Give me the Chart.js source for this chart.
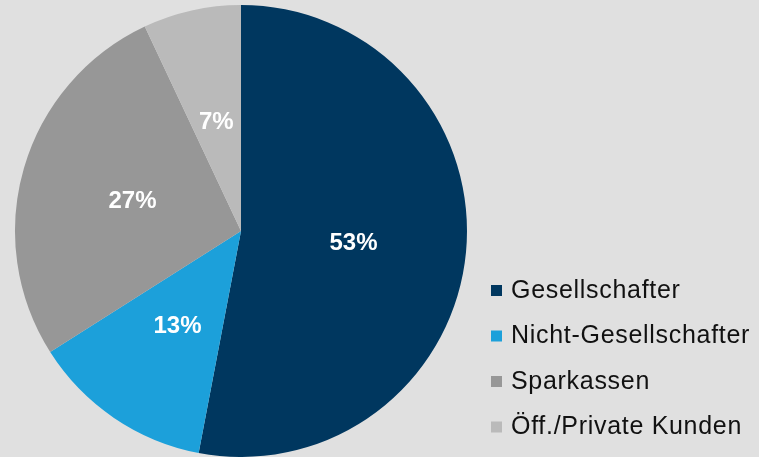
<!DOCTYPE html>
<html>
<head>
<meta charset="utf-8">
<script src="https://cdn.jsdelivr.net/npm/chart.js@4"></script>
<style>
  html, body { margin: 0; padding: 0; background: #e0e0e0; }
  #wrap { width: 759px; height: 457px; position: relative; }
</style>
</head>
<body>
<div id="wrap"><canvas id="pieChart"></canvas></div>
<script>
const labels = ['Gesellschafter', 'Nicht-Gesellschafter', 'Sparkassen', 'Öff./Private Kunden'];
const values = [53, 13, 27, 7];
const colors = ['#00375f', '#1ca0da', '#979797', '#bababa'];

// percentage text inside each slice
const sliceLabels = {
  id: 'sliceLabels',
  afterDatasetsDraw(chart) {
    const ctx = chart.ctx;
    const meta = chart.getDatasetMeta(0);
    ctx.save();
    ctx.fillStyle = '#fff';
    ctx.font = 'bold 24px "Liberation Sans", Arial, sans-serif';
    ctx.textAlign = 'center';
    ctx.textBaseline = 'middle';
    meta.data.forEach((arc, i) => {
      const p = arc.tooltipPosition();
      ctx.fillText(values[i] + '%', p.x, p.y + 2);
    });
    ctx.restore();
  }
};

// legend on the lower right
const sideLegend = {
  id: 'sideLegend',
  afterDraw(chart) {
    const ctx = chart.ctx;
    const x0 = 491, y0 = 290, step = 45.5;
    ctx.save();
    ctx.font = '25px "Liberation Sans", Arial, sans-serif';
    ctx.letterSpacing = '0.7px';
    ctx.textBaseline = 'middle';
    labels.forEach((t, i) => {
      const y = y0 + i * step;
      ctx.fillStyle = colors[i];
      ctx.fillRect(x0, y - 5, 11, 11);
      ctx.fillStyle = '#111';
      ctx.fillText(t, x0 + 20, y + 1);
    });
    ctx.restore();
  }
};

const ctx = document.getElementById('pieChart').getContext('2d');
window.pieChart = new Chart(ctx, {
  type: 'pie',
  data: {
    labels: labels,
    datasets: [{
      data: values,
      backgroundColor: colors,
      borderWidth: 0
    }]
  },
  options: {
    responsive: true,
    maintainAspectRatio: false,
    animation: false,
    layout: { padding: { left: 15, right: 292, top: 5, bottom: 0 } },
    plugins: {
      legend: { display: false },
      tooltip: { enabled: false }
    }
  },
  plugins: [sliceLabels, sideLegend]
});
</script>
</body>
</html>
